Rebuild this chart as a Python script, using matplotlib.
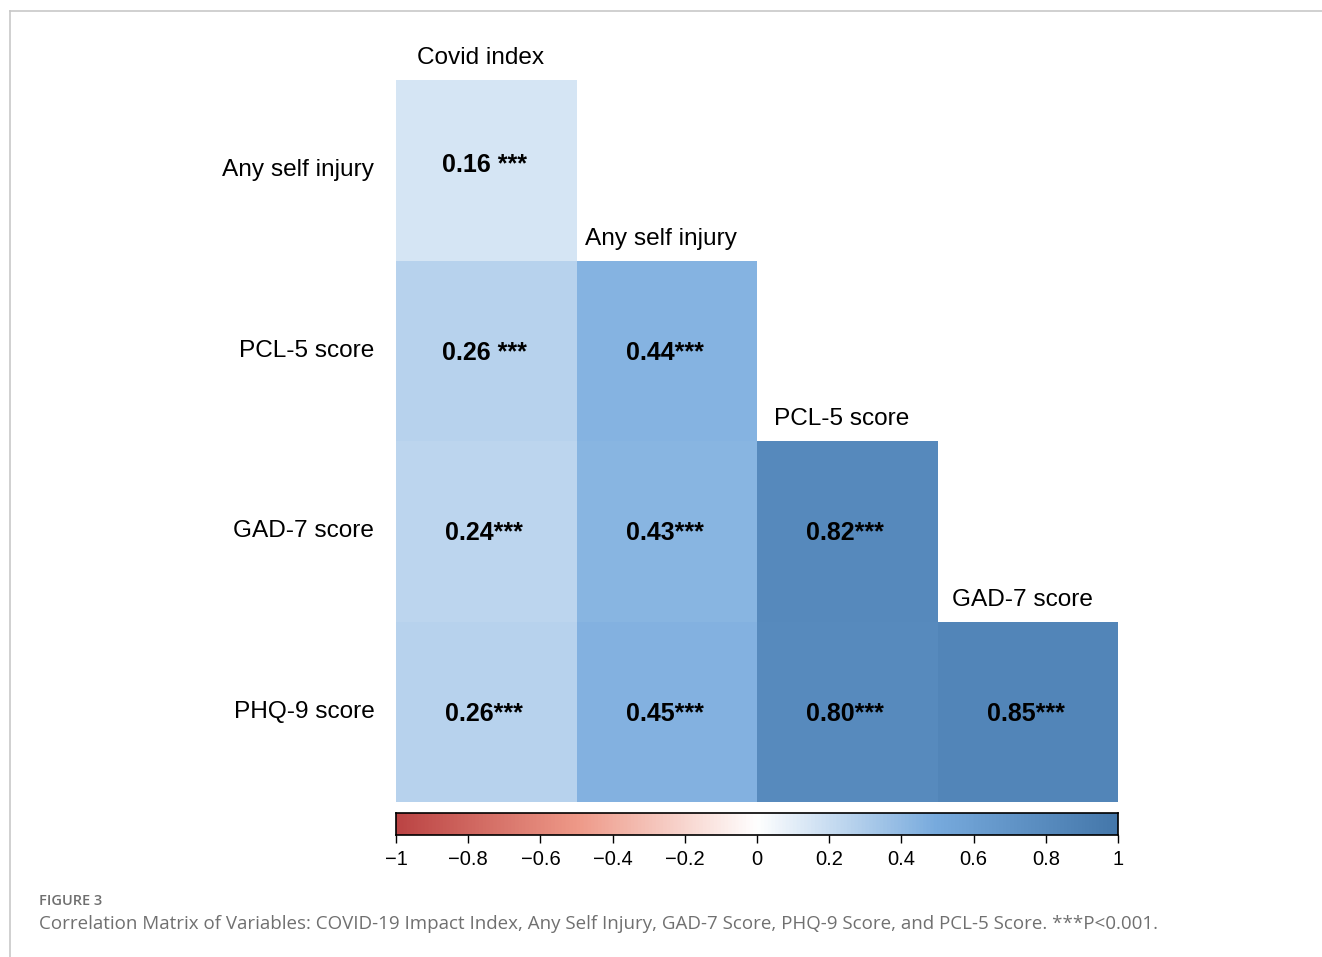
import numpy as np
import matplotlib.pyplot as plt
from matplotlib.colors import LinearSegmentedColormap
from matplotlib.lines import Line2D


variables = ["Covid index", "Any self injury", "PCL-5 score", "GAD-7 score", "PHQ-9 score"]

# lower triangle of the correlation matrix (rows: variables[1:], cols: variables[:-1])
corr = [
    [0.16, None, None, None],
    [0.26, 0.44, None, None],
    [0.24, 0.43, 0.82, None],
    [0.26, 0.45, 0.80, 0.85],
]
cell_labels = [
    ["0.16 ***", "", "", ""],
    ["0.26 ***", "0.44***", "", ""],
    ["0.24***", "0.43***", "0.82***", ""],
    ["0.26***", "0.45***", "0.80***", "0.85***"],
]

cbar_ticks = [-1, -0.8, -0.6, -0.4, -0.2, 0, 0.2, 0.4, 0.6, 0.8, 1]
cbar_ticklabels = ["\u22121", "\u22120.8", "\u22120.6", "\u22120.4", "\u22120.2",
                   "0", "0.2", "0.4", "0.6", "0.8", "1"]

caption_head = "FIGURE 3"
caption_text = ("Correlation Matrix of Variables: COVID-19 Impact Index, Any Self Injury, "
                "GAD-7 Score, PHQ-9 Score, and PCL-5 Score. ***P<0.001.")

W, H = 1322, 957
plt.rcParams["font.family"] = ["Liberation Sans", "DejaVu Sans"]

cmap = LinearSegmentedColormap.from_list(
    "corr", ["#BB4444", "#EE9988", "#FFFFFF", "#77AADD", "#4477AA"], N=200)


def fx(px):
    return px / W


def fy(py):
    return 1 - py / H


def main():
    fig = plt.figure(figsize=(W / 100, H / 100), dpi=100)

    # panel frame lines
    fig.add_artist(Line2D([fx(10), 1], [fy(11), fy(11)], color="#c8c8c8", lw=1.2))
    fig.add_artist(Line2D([fx(10), fx(10)], [fy(11), 0], color="#c8c8c8", lw=1.2))

    n = len(corr)
    ax = fig.add_axes([fx(396), fy(802), fx(722), 722 / H])
    data = np.ma.masked_invalid(np.array(
        [[np.nan if v is None else v for v in row] for row in corr], dtype=float))
    ax.pcolormesh(np.arange(n + 1), np.arange(n + 1), data, cmap=cmap,
                  vmin=-1, vmax=1, edgecolors="none")
    ax.set_xlim(0, n)
    ax.set_ylim(n, 0)
    ax.axis("off")

    for i in range(n):
        for j in range(n):
            if cell_labels[i][j]:
                ax.annotate(cell_labels[i][j], (j + 0.5, i + 0.5),
                            xytext=(-1.5, -1.5 if i else 4), textcoords="offset points",
                            ha="center", va="center", fontsize=18,
                            fontweight="bold", color="black")

    # row labels on the left
    for i in range(n):
        ax.text(-0.12, i + 0.5, variables[i + 1], ha="right", va="center",
                fontsize=17.6)
    # column labels above the diagonal cells
    for j in range(n):
        ax.text(j + 0.47, j - 0.12, variables[j], ha="center", va="center",
                fontsize=17.6)

    # colour bar
    cax = fig.add_axes([fx(396), fy(835), fx(722), 22 / H])
    grad = np.linspace(-1, 1, 400).reshape(1, -1)
    cax.imshow(grad, cmap=cmap, vmin=-1, vmax=1, aspect="auto",
               extent=[-1, 1, 0, 1])
    cax.set_xlim(-1, 1)
    cax.set_yticks([])
    cax.set_xticks(cbar_ticks)
    cax.set_xticklabels(cbar_ticklabels, fontsize=14.5)
    cax.tick_params(axis="x", length=6, width=1, pad=5)
    for s in cax.spines.values():
        s.set_linewidth(1.2)

    fig.text(fx(39), fy(901), caption_head, fontsize=10.5, color="#6f6f6f",
             family=["Open Sans", "DejaVu Sans"], fontweight="semibold",
             va="center")
    fig.text(fx(39), fy(924), caption_text, fontsize=13.5, color="#707070",
             family=["Open Sans", "DejaVu Sans"], va="center")

    fig.savefig("out.png", dpi=100)


if __name__ == "__main__":
    main()
